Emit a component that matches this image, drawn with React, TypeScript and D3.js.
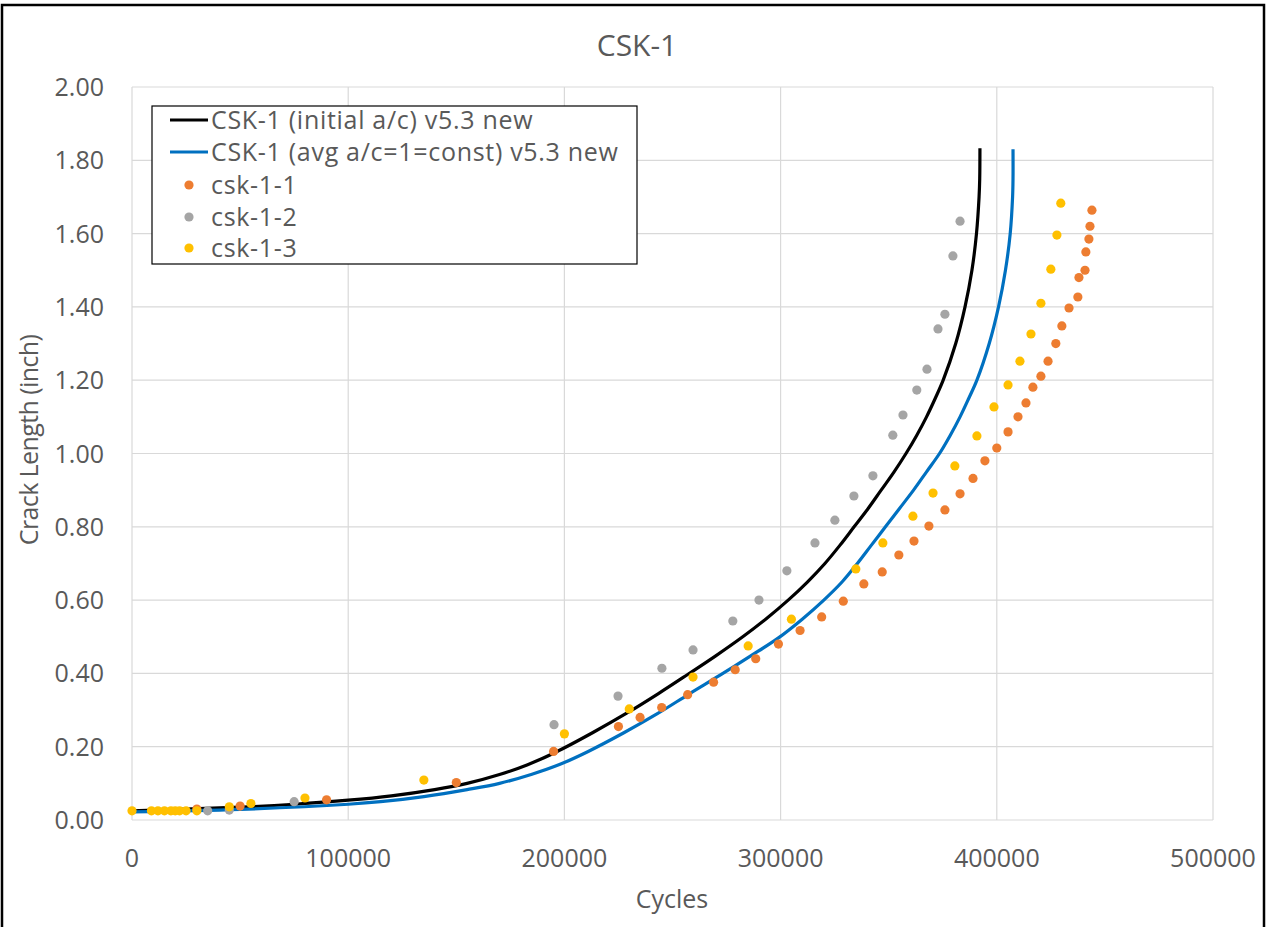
import React from "react";
import * as d3 from "d3";

// ---- data ----
const chartTitle = "CSK-1";
const xAxisTitle = "Cycles";
const yAxisTitle = "Crack Length (inch)";

const xTickValues = [0, 100000, 200000, 300000, 400000, 500000];
const yTickValues = [0, 0.2, 0.4, 0.6, 0.8, 1.0, 1.2, 1.4, 1.6, 1.8, 2.0];

// predicted curves: [cycles, crack length]
const initialAcCurve: [number, number][] = [
  [0, 0.025], [50000, 0.035], [75000, 0.043], [100000, 0.054], [120000, 0.066],
  [140000, 0.083], [155000, 0.1], [170000, 0.124], [183000, 0.151], [196000, 0.185],
  [213000, 0.238], [229000, 0.292], [243500, 0.345], [257000, 0.397], [270000, 0.448],
  [282500, 0.5], [293500, 0.55], [303500, 0.6], [312500, 0.65], [320500, 0.7],
  [327500, 0.75], [334000, 0.8], [340500, 0.85], [346500, 0.9], [352500, 0.95],
  [358000, 1.0], [363000, 1.05], [367500, 1.1], [371500, 1.15], [375200, 1.2],
  [381000, 1.3], [385300, 1.4], [388500, 1.5], [390600, 1.6], [391800, 1.7],
  [392100, 1.75], [392200, 1.833],
];

const avgAcCurve: [number, number][] = [
  [0, 0.022], [50000, 0.029], [100000, 0.043], [115000, 0.05], [135000, 0.064],
  [155000, 0.083], [170000, 0.1], [185000, 0.125], [198000, 0.152], [211000, 0.187],
  [227500, 0.238], [243000, 0.29], [258000, 0.345], [272000, 0.395], [286000, 0.447],
  [299000, 0.497], [310000, 0.548], [320000, 0.6], [328500, 0.65], [335500, 0.7],
  [342000, 0.75], [348500, 0.8], [355000, 0.85], [361500, 0.9], [367500, 0.95],
  [373500, 1.0], [378500, 1.05], [383000, 1.1], [387000, 1.15], [390800, 1.2],
  [396500, 1.3], [400800, 1.4], [404000, 1.5], [406200, 1.6], [407300, 1.7],
  [407500, 1.75], [407500, 1.83],
];

// measured specimens: [cycles, crack length]
const csk11: [number, number][] = [
  [30000, 0.03], [50000, 0.038], [90000, 0.055], [150000, 0.102], [195000, 0.187],
  [225000, 0.255], [235000, 0.28], [245000, 0.307], [257000, 0.342], [269000, 0.376],
  [279000, 0.41], [288500, 0.44], [299000, 0.48], [309000, 0.517], [319000, 0.554],
  [329000, 0.597], [338500, 0.644], [347000, 0.677], [354700, 0.723], [361700, 0.761],
  [368600, 0.802], [376000, 0.846], [383000, 0.89], [389000, 0.932], [394500, 0.98],
  [400000, 1.015], [405200, 1.059], [409800, 1.1], [413500, 1.138], [416700, 1.181],
  [420400, 1.211], [423700, 1.252], [427300, 1.3], [430100, 1.348], [433400, 1.397],
  [437500, 1.427], [438000, 1.48], [440800, 1.5], [441200, 1.55], [442600, 1.585],
  [443100, 1.62], [444000, 1.664],
];

const csk12: [number, number][] = [
  [35000, 0.025], [45000, 0.027], [75000, 0.05], [195200, 0.26], [224800, 0.338],
  [245100, 0.414], [259500, 0.464], [277900, 0.543], [290000, 0.6], [302900, 0.68],
  [315900, 0.756], [325100, 0.818], [333900, 0.884], [342700, 0.939], [351900, 1.05],
  [356600, 1.105], [363000, 1.173], [367700, 1.23], [372800, 1.34], [376000, 1.38],
  [379700, 1.539], [383000, 1.634],
];

const csk13: [number, number][] = [
  [0, 0.025], [9000, 0.025], [12000, 0.025], [15000, 0.025], [18000, 0.025],
  [20000, 0.025], [22000, 0.025], [25000, 0.025], [30000, 0.025], [45000, 0.036],
  [55000, 0.045], [80000, 0.06], [135000, 0.109], [200000, 0.235], [230000, 0.303],
  [259500, 0.39], [285000, 0.475], [305000, 0.548], [334800, 0.685], [347300, 0.756],
  [361200, 0.829], [370500, 0.892], [380600, 0.966], [390800, 1.048], [398700, 1.127],
  [405200, 1.187], [410700, 1.252], [415800, 1.326], [420400, 1.41], [425000, 1.503],
  [427800, 1.596], [429600, 1.683],
];

const lineSeries = [
  { name: "CSK-1 (initial a/c) v5.3 new", color: "#000000", data: initialAcCurve },
  { name: "CSK-1 (avg a/c=1=const) v5.3 new", color: "#0070C0", data: avgAcCurve },
];

const pointSeries = [
  { name: "csk-1-1", color: "#ED7D31", data: csk11 },
  { name: "csk-1-2", color: "#A5A5A5", data: csk12 },
  { name: "csk-1-3", color: "#FFC000", data: csk13 },
];

// ---- layout ----
const W = 1267;
const H = 927;
const plot = { left: 132, right: 1213, top: 87, bottom: 820 };
const font = "'Open Sans', 'DejaVu Sans', sans-serif";
const textColor = "#595959";
const gridColor = "#D9D9D9";

export default function App() {
  const x = d3.scaleLinear().domain([0, 500000]).range([plot.left, plot.right]);
  const y = d3.scaleLinear().domain([0, 2]).range([plot.bottom, plot.top]);

  const line = d3
    .line<[number, number]>()
    .x((d) => x(d[0]))
    .y((d) => y(d[1]))
    .curve(d3.curveCatmullRom.alpha(0.5));

  const legend = { x: 152, y: 106, w: 485, h: 158, rowY: [120, 152, 185, 217, 248] };
  const legendItems = [
    ...lineSeries.map((s) => ({ ...s, kind: "line" })),
    ...pointSeries.map((s) => ({ ...s, kind: "point" })),
  ];

  return (
    <div style={{ position: "absolute", left: 0, top: 0 }}>
      <svg width={W} height={H} style={{ display: "block", background: "#fff" }} fontFamily={font}>
        <rect x={0} y={0} width={W} height={H} fill="#fff" />
        {/* outer frame */}
        <rect x={2} y={5} width={1262} height={1000} fill="none" stroke="#000" strokeWidth={2.5} />

        {/* title */}
        <text x={637} y={56} textAnchor="middle" fontSize={30} fill={textColor}>
          {chartTitle}
        </text>

        {/* gridlines */}
        <g stroke={gridColor} strokeWidth={1.2}>
          {yTickValues.map((v) => (
            <line key={"gy" + v} x1={plot.left} x2={plot.right} y1={y(v)} y2={y(v)} />
          ))}
          {xTickValues.map((v) => (
            <line key={"gx" + v} x1={x(v)} x2={x(v)} y1={plot.top} y2={plot.bottom} />
          ))}
        </g>

        {/* tick labels */}
        <g fontSize={25} fill={textColor}>
          {yTickValues.map((v) => (
            <text key={"ty" + v} x={104} y={y(v) + 9} textAnchor="end">
              {d3.format(".2f")(v)}
            </text>
          ))}
          {xTickValues.map((v) => (
            <text key={"tx" + v} x={x(v)} y={867} textAnchor="middle">
              {String(v)}
            </text>
          ))}
        </g>

        {/* axis titles */}
        <text x={672} y={908} textAnchor="middle" fontSize={25} fill={textColor}>
          {xAxisTitle}
        </text>
        <text
          transform={`translate(38, 440) rotate(-90)`}
          textAnchor="middle"
          fontSize={25}
          letterSpacing={-0.6}
          fill={textColor}
        >
          {yAxisTitle}
        </text>

        {/* predicted curves */}
        {lineSeries.map((s) => (
          <path
            key={s.name}
            d={line(s.data) || ""}
            fill="none"
            stroke={s.color}
            strokeWidth={3.2}
            strokeLinejoin="round"
          />
        ))}

        {/* measured points */}
        {pointSeries.map((s) => (
          <g key={s.name} fill={s.color}>
            {s.data.map((d, i) => (
              <circle key={i} cx={x(d[0])} cy={y(d[1])} r={4.6} />
            ))}
          </g>
        ))}

        {/* legend */}
        <rect x={legend.x} y={legend.y} width={legend.w} height={legend.h} fill="#fff" stroke="#000" strokeWidth={1.2} />
        {legendItems.map((s, i) => {
          const cy = legend.rowY[i];
          return (
            <g key={"lg" + s.name}>
              {s.kind === "line" ? (
                <line x1={170} x2={208} y1={cy} y2={cy} stroke={s.color} strokeWidth={3.2} />
              ) : (
                <circle cx={189} cy={cy} r={4.6} fill={s.color} />
              )}
              <text x={211} y={cy + 9} fontSize={25} letterSpacing={0.7} fill={textColor}>
                {s.name}
              </text>
            </g>
          );
        })}
      </svg>
    </div>
  );
}
